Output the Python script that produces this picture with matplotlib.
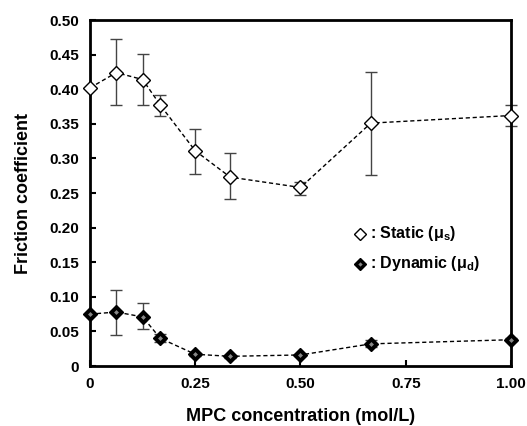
import matplotlib
matplotlib.use('Agg')
import matplotlib.pyplot as plt

plt.rcParams['font.family'] = ['Liberation Sans', 'DejaVu Sans']

# MPC concentration (mol/L)
conc = [0.0, 0.0625, 0.125, 0.167, 0.25, 0.333, 0.5, 0.667, 1.0]

# static friction coefficient, upper and lower error limits
static = [0.402, 0.424, 0.414, 0.377, 0.311, 0.273, 0.258, 0.351, 0.362]
static_hi = [0.402, 0.473, 0.451, 0.391, 0.342, 0.308, 0.266, 0.425, 0.377]
static_lo = [0.402, 0.377, 0.377, 0.362, 0.278, 0.241, 0.247, 0.276, 0.347]

# dynamic friction coefficient, upper and lower error limits
dynamic = [0.075, 0.078, 0.071, 0.040, 0.017, 0.014, 0.016, 0.032, 0.038]
dynamic_hi = [0.075, 0.110, 0.091, 0.046, 0.019, 0.016, 0.018, 0.037, 0.040]
dynamic_lo = [0.075, 0.045, 0.053, 0.034, 0.015, 0.012, 0.014, 0.027, 0.036]

yticks = [0, 0.05, 0.10, 0.15, 0.20, 0.25, 0.30, 0.35, 0.40, 0.45, 0.50]
ytick_labels = ['0', '0.05', '0.10', '0.15', '0.20', '0.25', '0.30', '0.35', '0.40', '0.45', '0.50']
xticks = [0, 0.25, 0.5, 0.75, 1.0]
xtick_labels = ['0', '0.25', '0.50', '0.75', '1.00']

fig = plt.figure(figsize=(5.27, 4.26), dpi=100)
ax = fig.add_axes([0.1708, 0.1408, 0.7988, 0.8122])


def draw_series(y, hi, lo, face, dot):
    err = [[v - l for v, l in zip(y, lo)], [h - v for v, h in zip(y, hi)]]
    ax.errorbar(conc, y, yerr=err, fmt='none', ecolor='#444444', elinewidth=1.0,
                capsize=4, capthick=1.0, clip_on=False, zorder=2)
    ax.plot(conc, y, linestyle=(0, (3, 2)), color='black', linewidth=1.0,
            marker='D', markersize=7.5, markerfacecolor=face,
            markeredgecolor='black', markeredgewidth=1.0, clip_on=False, zorder=3)
    if dot:
        ax.plot(conc, y, linestyle='none', marker='D', markersize=2.5,
                markerfacecolor='#888888', markeredgecolor='none', clip_on=False, zorder=4)


draw_series(static, static_hi, static_lo, 'white', False)
draw_series(dynamic, dynamic_hi, dynamic_lo, 'black', True)

# legend drawn by hand
ax.plot([0.641], [0.191], marker='D', markersize=6.5, markerfacecolor='white',
        markeredgecolor='black', linestyle='none')
ax.plot([0.641], [0.148], marker='D', markersize=6.5, markerfacecolor='black',
        markeredgecolor='black', linestyle='none')
ax.plot([0.641], [0.148], marker='D', markersize=2.2, markerfacecolor='#888888',
        markeredgecolor='none', linestyle='none')
ax.text(0.664, 0.191, r': Static ($\mathregular{\mu_s}$)', fontsize=11.5,
        fontweight='bold', va='center', ha='left')
ax.text(0.664, 0.148, r': Dynamic ($\mathregular{\mu_d}$)', fontsize=11.5,
        fontweight='bold', va='center', ha='left')

ax.set_xlim(0, 1.0)
ax.set_ylim(0, 0.50)
ax.set_xticks(xticks)
ax.set_xticklabels(xtick_labels)
ax.set_yticks(yticks)
ax.set_yticklabels(ytick_labels)
ax.tick_params(direction='in', length=4, width=1.5, labelsize=11, pad=8)
for lab in ax.get_xticklabels() + ax.get_yticklabels():
    lab.set_fontweight('bold')
for sp in ax.spines.values():
    sp.set_linewidth(2)

ax.set_xlabel('MPC concentration (mol/L)', fontsize=13, fontweight='bold', labelpad=12)
ax.set_ylabel('Friction coefficient', fontsize=13, fontweight='bold', labelpad=12)

fig.savefig('out.png', dpi=100)
